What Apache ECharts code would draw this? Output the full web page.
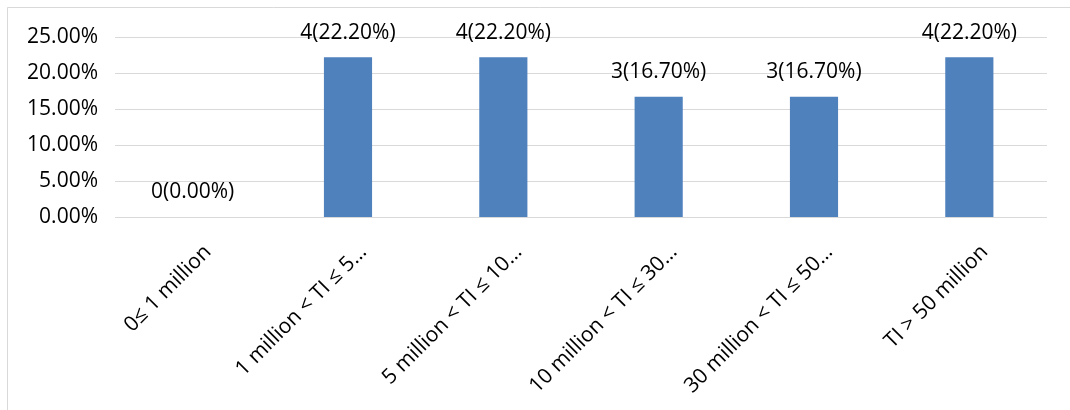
<!DOCTYPE html>
<html>
<head>
<meta charset="utf-8">
<script src="https://cdn.jsdelivr.net/npm/echarts@6/dist/echarts.min.js"></script>
<style>
html,body{margin:0;padding:0;background:#fff;}
#chart{width:1070px;height:410px;}
</style>
</head>
<body>
<div id="chart"></div>
<script>
const categories = ["0≤ 1 million", "1 million < TI ≤ 5…", "5 million < TI ≤ 10…", "10 million < TI ≤ 30…", "30 million < TI ≤ 50…", "TI > 50 million"];
const counts = [0, 4, 4, 3, 3, 4];
const percents = [0, 22.2, 22.2, 16.7, 16.7, 22.2];
const yTicks = [0, 5, 10, 15, 20, 25];

const FONT = '"Open Sans", sans-serif';
const chart = echarts.init(document.getElementById('chart'), null, {renderer: 'canvas'});
chart.setOption({
  animation: false,
  backgroundColor: '#fff',
  graphic: [{
    type: 'rect',
    shape: {x: 7.5, y: 7.5, width: 1200, height: 600},
    style: {fill: 'none', stroke: '#d9d9d9', lineWidth: 1},
    silent: true
  }],
  grid: {left: 115, right: 23, top: 37, bottom: 193},
  xAxis: {
    type: 'category',
    data: categories,
    axisLine: {show: false},
    axisTick: {show: false},
    axisLabel: {
      rotate: 45,
      interval: 0,
      margin: 32,
      verticalAlign: 'top',
      align: 'right',
      padding: [0, -11, 0, 0],
      color: '#000',
      fontFamily: FONT,
      fontSize: 21
    }
  },
  yAxis: {
    type: 'value',
    min: yTicks[0],
    max: yTicks[yTicks.length - 1],
    interval: 5,
    axisLine: {show: false},
    axisTick: {show: false},
    splitLine: {lineStyle: {color: '#d9d9d9', width: 1}},
    axisLabel: {
      margin: 17,
      color: '#000',
      fontFamily: FONT,
      fontSize: 21,
      formatter: v => v.toFixed(2) + '%'
    }
  },
  series: [{
    type: 'bar',
    data: percents,
    barWidth: '31%',
    itemStyle: {color: '#4f81bd'},
    label: {
      show: true,
      position: 'top',
      distance: 14,
      color: '#000',
      fontFamily: FONT,
      fontSize: 21,
      formatter: p => counts[p.dataIndex] + '(' + percents[p.dataIndex].toFixed(2) + '%)'
    }
  }]
});
</script>
</body>
</html>
